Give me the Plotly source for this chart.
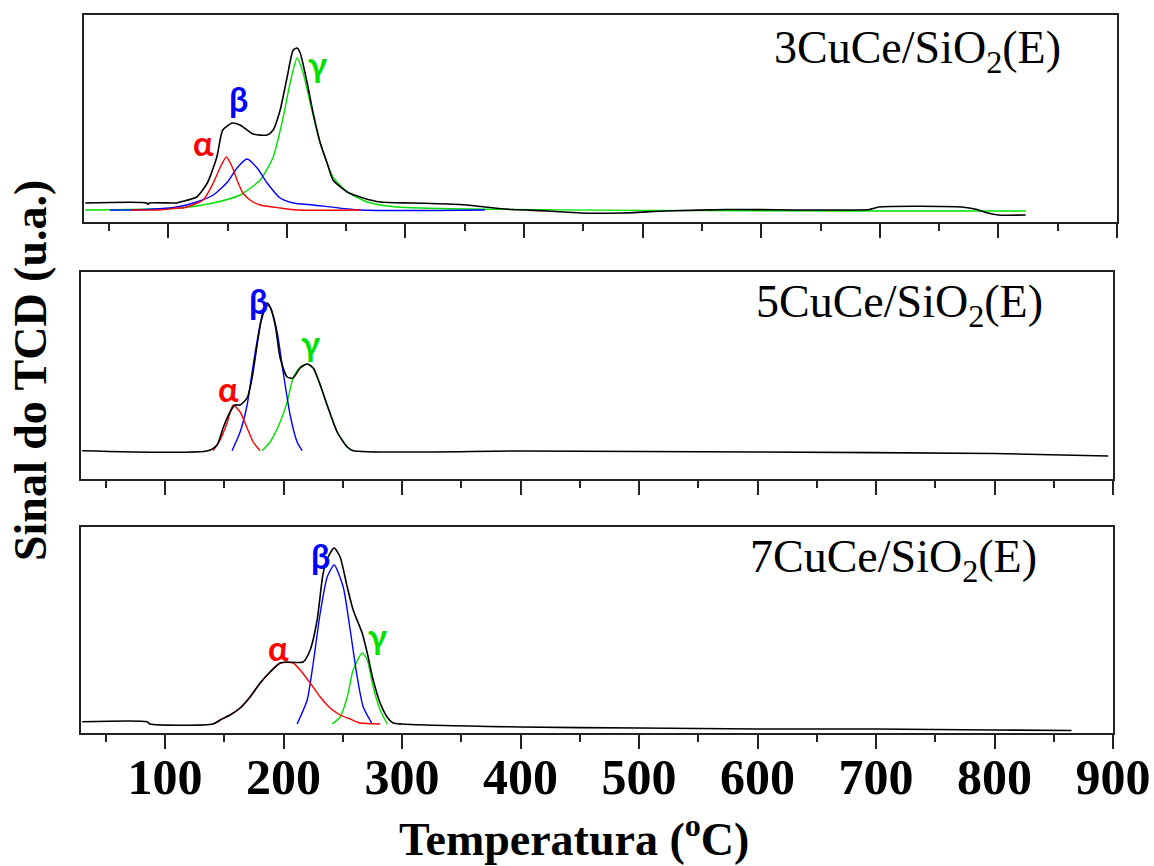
import plotly.graph_objects as go

# ---------------- data (temperature in °C, TCD signal in a.u.) ----------------
# Panel 1: 3CuCe/SiO2(E)
p1_exp_T = [30, 82, 83, 84, 107.5, 110, 124, 133, 141, 146, 154, 160.6, 171.6, 183.4, 188.5, 194.4,
            200.3, 205.4, 208.7, 211.3, 217.2, 222.2, 228.2, 234, 239, 251, 264.4, 278.8, 306.6,
            346, 360, 367, 390, 420, 448, 482, 520, 571, 691, 699, 769, 782, 791, 800, 823]
p1_exp_S = [19, 19, 17.5, 19, 19, 20, 25, 39, 65, 92, 99, 97, 88, 87, 92, 112,
            145, 172, 174, 169, 139, 109, 79, 59, 42, 30, 24, 20, 19,
            17.5, 16, 15, 12.5, 11, 9, 9, 11, 12.5, 12.5, 15, 15, 12.5, 9, 7, 7]
p1_a_T = [69.5, 93, 107.5, 112.5, 129.4, 138, 144, 149, 154, 158, 163, 169, 177.5, 194.4, 208.7, 262]
p1_a_S = [12, 12, 14, 14, 22, 39, 55, 65, 55, 42, 29, 22, 17, 14, 12, 12]
p1_b_T = [51, 69.5, 107.5, 124, 138, 150, 158, 166.5, 175, 183.4, 194.4, 205.4, 222.2, 262, 367]
p1_b_S = [12, 12, 15, 20, 27, 40, 54, 63, 54, 39, 24, 19, 17, 12, 12]
p1_g_T = [30, 110, 138, 160.6, 177.5, 188.5, 197, 202.8, 208.7, 213.8, 219.7, 228.2, 239, 251, 267.8, 293, 823]
p1_g_S = [12, 14, 19, 27, 42, 65, 105, 139, 164, 149, 119, 79, 45, 30, 20, 15, 11]

# Panel 2: 5CuCe/SiO2(E)
p2_exp_T = [30, 136.3, 143.9, 148.9, 154.8, 159, 163.3, 169.2, 173.4, 177.6, 181.9, 186.1, 188.6,
            192.9, 197.1, 203, 208, 214, 219.9, 225, 230.9, 237.6, 245.2, 253.7, 258.7,
            400, 600, 800, 896]
p2_exp_S = [28.3, 28.3, 34, 51, 67, 74, 74, 81, 101, 134, 164, 176, 172,
            154, 121, 102, 101, 111, 115, 111, 94, 71, 47, 32, 28.3,
            28, 27, 25.5, 23]
p2_a_T = [140.5, 146.4, 152.3, 157.4, 163.3, 169.2, 174.3, 180.2]
p2_a_S = [28.3, 39, 56, 74, 67, 51, 37, 28.3]
p2_b_T = [156.5, 163.3, 169.2, 174.3, 180.2, 186.1, 188.6, 194.5, 199.6, 205.5, 211.4, 215.7]
p2_b_S = [28.3, 47, 74, 114, 154, 174, 172, 147, 107, 64, 37, 28.3]
p2_g_T = [181.9, 188.6, 197.1, 203, 208, 214, 219.9, 225, 230.9, 237.6, 245.2, 253.7, 258.7]
p2_g_S = [28.3, 37, 57, 77, 101, 112, 115, 111, 94, 71, 47, 32, 28.3]

# Panel 3: 7CuCe/SiO2(E)
p3_exp_T = [30, 84.7, 87.3, 140.5, 146.4, 154.8, 163.3, 171.7, 180.2, 188.6, 197.1, 203, 216.5,
            222.4, 228.3, 233.4, 237.6, 242.7, 247.7, 253.7, 258.7, 266.3, 270.6, 275.6, 281.5,
            287.4, 292.5, 300, 400, 500, 600, 700, 800, 865]
p3_exp_S = [11.3, 11.3, 9, 9, 13, 18, 25, 36, 50, 61, 70, 71, 71,
            83, 113, 160, 176, 185, 176, 146, 123, 100, 80, 53, 30,
            16, 10, 9, 6, 5, 4, 4, 3, 2.5]
p3_a_T = [144.7, 146.4, 154.8, 163.3, 171.7, 180.2, 188.6, 197.1, 208, 214, 222.4, 230.9, 239.3,
          247.7, 256.2, 264.6, 281.5]
p3_a_S = [11, 13, 18, 25, 36, 50, 61, 70, 70, 63, 50, 36, 25, 18, 14, 10, 9]
p3_b_T = [211.4, 219.9, 225, 230.9, 236.8, 242.7, 250.3, 256.2, 262.1, 267.2, 274.8]
p3_b_S = [9, 33, 70, 120, 156, 168, 146, 103, 56, 26, 9]
p3_g_T = [241, 247.7, 253.7, 258.7, 266.3, 270.6, 275.6, 281.5, 287.4]
p3_g_S = [9, 16, 36, 63, 80, 73, 46, 23, 9]

sample_labels = ["3CuCe/SiO<sub>2</sub>(E)", "5CuCe/SiO<sub>2</sub>(E)", "7CuCe/SiO<sub>2</sub>(E)"]
peak_names = ["α", "β", "γ"]
# peak label positions (T, S) per panel, order alpha, beta, gamma
peak_lbl_T = [[129.4, 159, 225.6], [153.2, 178.5, 222.4], [195.4, 230.9, 279]]
peak_lbl_S = [[80, 124, 159], [91, 179, 137], [86, 178, 98]]

tick_vals = [100, 200, 300, 400, 500, 600, 700, 800, 900]
tick_text = [str(v) for v in tick_vals]
minor_vals = [50, 150, 250, 350, 450, 550, 650, 750, 850]

# ---------------- figure ----------------
RED, BLUE, GREEN, BLACK = "#ff0000", "#0000ff", "#00e000", "#000000"
panels = [
    (p1_exp_T, p1_exp_S, p1_a_T, p1_a_S, p1_b_T, p1_b_S, p1_g_T, p1_g_S),
    (p2_exp_T, p2_exp_S, p2_a_T, p2_a_S, p2_b_T, p2_b_S, p2_g_T, p2_g_S),
    (p3_exp_T, p3_exp_S, p3_a_T, p3_a_S, p3_b_T, p3_b_S, p3_g_T, p3_g_S),
]

W, H = 1154, 866
xdom = [[84 / W, 1117 / W], [81 / W, 1113 / W], [81 / W, 1113 / W]]
ydom = [[1 - 222 / H, 1 - 15 / H], [1 - 479 / H, 1 - 272 / H], [1 - 733 / H, 1 - 527 / H]]
yranges = [[0, 207], [0, 207], [0, 206]]

fig = go.Figure()
for i, (eT, eS, aT, aS, bT, bS, gT, gS) in enumerate(panels):
    xa = "x" if i == 0 else f"x{i+1}"
    ya = "y" if i == 0 else f"y{i+1}"
    for T, S, c, w in [(gT, gS, GREEN, 1.4), (bT, bS, BLUE, 1.4), (aT, aS, RED, 1.4), (eT, eS, BLACK, 1.6)]:
        fig.add_trace(go.Scatter(x=T, y=S, mode="lines", xaxis=xa, yaxis=ya,
                                 line=dict(color=c, width=w, shape="spline", smoothing=0.6),
                                 showlegend=False, hoverinfo="skip"))
    for k, (nm, col) in enumerate(zip(peak_names, [RED, BLUE, GREEN])):
        fig.add_annotation(x=peak_lbl_T[i][k], y=peak_lbl_S[i][k], xref=xa, yref=ya,
                           text=f"<b>{nm}</b>", showarrow=False,
                           font=dict(family="Lato, Open Sans, sans-serif", size=34, color=col))

axis_common = dict(range=[29, 900], showline=True, linecolor="#222222", linewidth=2, mirror=True,
                   ticks="outside", ticklen=14, tickwidth=2, tickcolor="#222222",
                   tickvals=tick_vals, showgrid=False, zeroline=False, automargin=False,
                   minor=dict(ticks="outside", ticklen=7, tickwidth=2, tickcolor="#222222",
                              tickvals=minor_vals))
yaxis_common = dict(showline=True, linecolor="#222222", linewidth=2, mirror=True, ticks="",
                    showticklabels=False, showgrid=False, zeroline=False, automargin=False)

layout_axes = {}
for i in range(3):
    xk = "xaxis" if i == 0 else f"xaxis{i+1}"
    yk = "yaxis" if i == 0 else f"yaxis{i+1}"
    ya = "y" if i == 0 else f"y{i+1}"
    xa = "x" if i == 0 else f"x{i+1}"
    xd = dict(axis_common, domain=xdom[i], anchor=ya)
    if i == 2:
        xd.update(showticklabels=True, ticktext=tick_text, ticklabelstandoff=-15,
                  tickfont=dict(family="Liberation Serif, Times New Roman, serif", size=50, color="black",
                                weight="bold"))
    else:
        xd.update(showticklabels=False)
    layout_axes[xk] = xd
    layout_axes[yk] = dict(yaxis_common, domain=ydom[i], range=yranges[i], anchor=xa)

fig.update_layout(width=W, height=H, margin=dict(l=0, r=0, t=0, b=0, autoexpand=False),
                  paper_bgcolor="white", plot_bgcolor="white", **layout_axes)

# sample labels
lbl_pos = [(917, 51), (899, 305), (893, 560)]
for txt, (px, py) in zip(sample_labels, lbl_pos):
    fig.add_annotation(x=px / W, y=1 - py / H, xref="paper", yref="paper", text=txt, showarrow=False,
                       xanchor="center", yanchor="middle",
                       font=dict(family="Liberation Serif, Times New Roman, serif", size=46, color="black"))

# axis titles
fig.add_annotation(x=574 / W, y=1 - 836 / H, xref="paper", yref="paper",
                   text="<b>Temperatura (<sup>o</sup>C)</b>", showarrow=False,
                   xanchor="center", yanchor="middle",
                   font=dict(family="Liberation Serif, Times New Roman, serif", size=46, color="black"))
fig.add_annotation(x=30 / W, y=1 - 371 / H, xref="paper", yref="paper",
                   text="<b>Sinal do TCD (u.a.)</b>", showarrow=False, textangle=-90,
                   xanchor="center", yanchor="middle",
                   font=dict(family="Liberation Serif, Times New Roman, serif", size=46, color="black"))

fig.write_html("out.html")
